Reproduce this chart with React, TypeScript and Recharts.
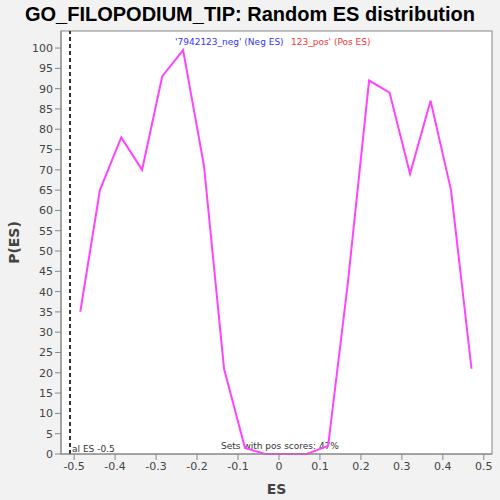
import React from "react";
import { LineChart, Line, XAxis, YAxis, CartesianGrid, ReferenceLine, Label } from "recharts";

const esValues = [-0.485, -0.437, -0.385, -0.334, -0.285, -0.234, -0.183, -0.134, -0.083, -0.034, 0.017, 0.068, 0.12, 0.168, 0.22, 0.27, 0.32, 0.37, 0.42, 0.47];
const pValues = [35, 65, 78, 70, 93, 99.5, 71, 21, 1.5, 0, 0, 0, 2, 42, 92, 89, 69, 87, 65, 21];
const xTicks = [-0.5, -0.4, -0.3, -0.2, -0.1, 0, 0.1, 0.2, 0.3, 0.4, 0.5];
const yTicks = [0, 5, 10, 15, 20, 25, 30, 35, 40, 45, 50, 55, 60, 65, 70, 75, 80, 85, 90, 95, 100];
const actualEs = -0.51;

const data = esValues.map((es, i) => ({ es, p: pValues[i] }));
const font = "DejaVu Sans, sans-serif";

export default function App() {
  return (
    <div style={{ position: "absolute", left: 0, top: 0, width: 500, height: 500, background: "#f2f2f2", fontFamily: font }}>
      <div style={{ position: "absolute", top: 3, width: 500, textAlign: "center", fontSize: 20, fontWeight: "bold", color: "#000", whiteSpace: "nowrap", fontFamily: "Liberation Sans, Arial, sans-serif" }}>
        GO_FILOPODIUM_TIP: Random ES distribution
      </div>
      <LineChart width={500} height={500} data={data} margin={{ top: 31, right: 8, bottom: 0, left: 0 }}>
        <rect x={61} y={31} width={431} height={423} fill="#fff" stroke="#888" />
        <CartesianGrid stroke="#e4e4e4" strokeDasharray="3 3" fill="#fff" />
        <XAxis dataKey="es" type="number" domain={[-0.532, 0.52]} ticks={xTicks} height={46}
          tick={{ fontSize: 11, fill: "#444", fontFamily: font }} tickFormatter={(v) => String(Math.round(v * 10) / 10)}
          stroke="#888" tickLine={{ stroke: "#888" }}>
          <Label value="ES" position="insideBottom" offset={6} style={{ fontSize: 14, fontWeight: "bold", fill: "#444", fontFamily: font }} />
        </XAxis>
        <YAxis type="number" domain={[0, 104.2]} ticks={yTicks} width={61} interval={0}
          tick={{ fontSize: 11, fill: "#444", fontFamily: font }} stroke="#888">
          <Label value="P(ES)" angle={-90} position="insideLeft" offset={14} style={{ fontSize: 14, fontWeight: "bold", fill: "#444", fontFamily: font, textAnchor: "middle" }} />
        </YAxis>
        <ReferenceLine x={actualEs} stroke="#333" strokeWidth={2} strokeDasharray="4 3">
          <Label value="al ES -0.5" position="insideBottomLeft" offset={2} style={{ fontSize: 9, fill: "#333", fontFamily: font }} />
        </ReferenceLine>
        <Line dataKey="p" stroke="#ff44ff" strokeWidth={2} dot={false} isAnimationActive={false} />
        <text x={280} y={449} textAnchor="middle" fontSize={9} fill="#333" fontFamily={font}>Sets with pos scores: 47%</text>
        <text x={175} y={45} fontSize={9} fill="#3333ff" fontFamily={font}>'7942123_neg' (Neg ES)</text>
        <text x={291} y={45} fontSize={9} fill="#ff3333" fontFamily={font}>123_pos' (Pos ES)</text>
      </LineChart>
    </div>
  );
}
